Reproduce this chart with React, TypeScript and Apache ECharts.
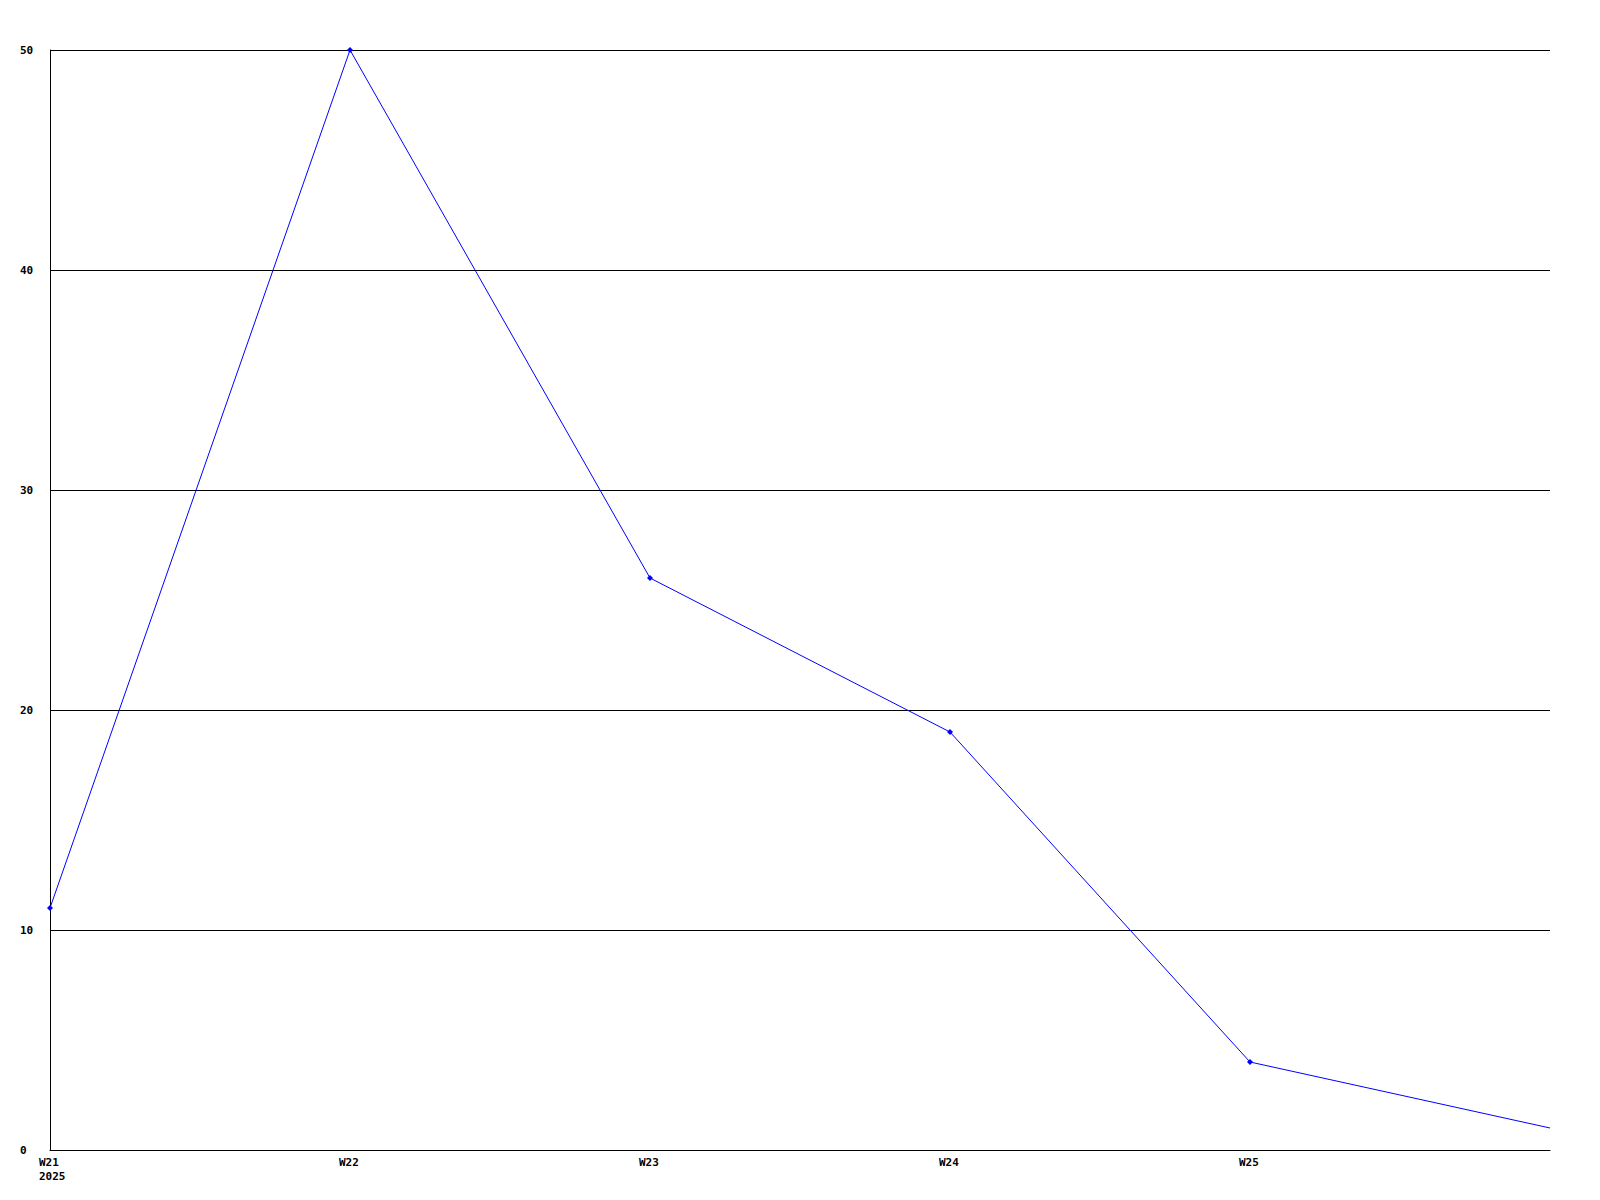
import React, { useEffect, useRef } from "react";
import * as echarts from "echarts";

const categories = ["W21", "W22", "W23", "W24", "W25", ""];
const values = [11, 50, 26, 19, 4, 1];
const markerShown = [true, true, true, true, true, false];
const yearLabel = "2025";
const yTicks = { min: 0, max: 50, interval: 10 };

export default function App() {
  const ref = useRef<HTMLDivElement>(null);
  useEffect(() => {
    const chart = echarts.init(ref.current!, null, { renderer: "svg" });
    const font = "'DejaVu Sans Mono', monospace";
    chart.setOption({
      animation: false,
      backgroundColor: "#ffffff",
      grid: { left: 50, right: 50, top: 50, bottom: 50, containLabel: false },
      xAxis: {
        type: "category",
        data: categories,
        boundaryGap: false,
        axisLine: { show: true, lineStyle: { color: "#000", width: 1 } },
        axisTick: { show: false },
        splitLine: { show: false },
        axisLabel: {
          color: "#000",
          fontFamily: font,
          fontWeight: "bold",
          fontSize: 11,
          align: "left",
          padding: [0, 0, 0, -11],
          margin: 5,
          lineHeight: 14,
          interval: 0,
          formatter: (v: string, i: number) => (i === 0 ? v + "\n" + yearLabel : v),
        },
      },
      yAxis: {
        type: "value",
        min: yTicks.min,
        max: yTicks.max,
        interval: yTicks.interval,
        axisLine: { show: true, lineStyle: { color: "#000", width: 1 } },
        axisTick: { show: false },
        splitLine: { show: true, lineStyle: { color: "#000", width: 1 } },
        axisLabel: {
          color: "#000",
          fontFamily: font,
          fontWeight: "bold",
          fontSize: 11,
          align: "left",
          margin: 30,
        },
      },
      series: [
        {
          type: "line",
          data: values.map((v, i) => (markerShown[i] ? v : { value: v, symbol: "none" })),
          symbol: "diamond",
          symbolSize: 6,
          lineStyle: { color: "#0000ff", width: 1 },
          itemStyle: { color: "#0000ff" },
        },
      ],
    });
    return () => chart.dispose();
  }, []);
  return <div ref={ref} style={{ width: 1600, height: 1200, position: "absolute", left: 0, top: 0 }} />;
}
